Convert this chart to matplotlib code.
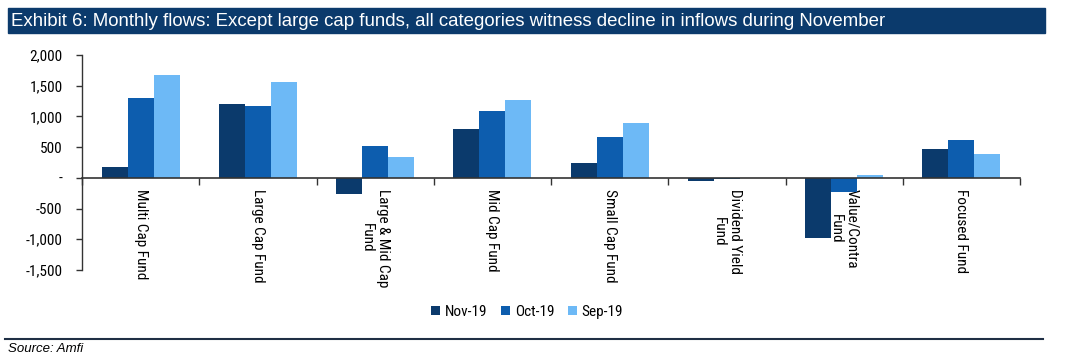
import numpy as np
import matplotlib
matplotlib.use("Agg")
import matplotlib.pyplot as plt
from matplotlib.patches import Rectangle
from matplotlib.ticker import FuncFormatter, FixedLocator

plt.rcParams['font.family'] = ['Roboto Condensed', 'DejaVu Sans']

# 数据
categories = ["Multi Cap Fund", "Large Cap Fund", "Large & Mid Cap\nFund", "Mid Cap Fund",
              "Small Cap Fund", "Dividend Yield\nFund", "Value/Contra\nFund", "Focused Fund"]
series_names = ["Nov-19", "Oct-19", "Sep-19"]
nov19 = [170, 1195, -265, 800, 245, -55, -975, 475]
oct19 = [1305, 1175, 515, 1085, 670, -20, -235, 610]
sep19 = [1680, 1555, 335, 1275, 890, 5, 40, 395]
colors = ["#0B3A6C", "#0D5DAE", "#6DB9F6"]

fig = plt.figure(figsize=(10.65, 3.62), dpi=100)

# 标题栏
fig.patches.append(Rectangle((8 / 1065, 1 - 33 / 362), (1045 - 8) / 1065, 25 / 362,
                             transform=fig.transFigure, color="#0B3A6C", zorder=0))
fig.text(11 / 1065, 1 - 21 / 362,
         "Exhibit 6: Monthly flows: Except large cap funds, all categories witness decline in inflows during November",
         color="white", fontsize=13.4, va="center", ha="left",
         family=["Liberation Sans", "DejaVu Sans"])

ax = fig.add_axes([82 / 1065, 1 - 270 / 362, (1020 - 82) / 1065, (270 - 55) / 362])

x = np.arange(len(categories)) + 0.5
w = 0.222
for i, (vals, name) in enumerate(zip([nov19, oct19, sep19], series_names)):
    ax.bar(x + (i - 1) * w, vals, width=w, color=colors[i], label=name, zorder=2)

ax.set_xlim(0, len(categories))
ax.set_ylim(-1500, 2000)
ax.set_yticks([-1500, -1000, -500, 0, 500, 1000, 1500, 2000])
ax.yaxis.set_major_formatter(FuncFormatter(lambda v, p: "-" if v == 0 else f"{int(v):,}"))
ax.tick_params(axis="y", labelsize=11, length=4, width=1, color="#333333", pad=10)

ax.spines["top"].set_visible(False)
ax.spines["right"].set_visible(False)
ax.spines["left"].set_color("#333333")
ax.spines["bottom"].set_color("#333333")
ax.spines["bottom"].set_position(("data", 0))
ax.spines["left"].set_linewidth(1)
ax.spines["bottom"].set_linewidth(1.2)

ax.xaxis.set_major_locator(FixedLocator(np.arange(len(categories) + 1)))
ax.xaxis.set_major_formatter(FuncFormatter(lambda v, p: ""))
ax.xaxis.set_minor_locator(FixedLocator(x))
ax.set_xticklabels(categories, minor=True, rotation=270, fontsize=11,
                   ha="center", va="top", multialignment="center")
ax.tick_params(axis="x", which="major", length=5, width=1, color="#333333", direction="out")
ax.tick_params(axis="x", which="minor", length=0, pad=8)

ax.legend(loc="center", bbox_to_anchor=(527 / 1065, 1 - 312 / 362), bbox_transform=fig.transFigure,
          ncol=3, frameon=False, fontsize=11, handlelength=0.6, handleheight=0.6,
          handletextpad=0.3, columnspacing=0.9)

# 来源
fig.add_artist(plt.Line2D([5 / 1065, 1043 / 1065], [1 - 339 / 362, 1 - 339 / 362],
                          transform=fig.transFigure, color="#1F2F45", lw=1.5))
fig.text(8 / 1065, 1 - 349 / 362, "Source: Amfi", fontsize=9.5, style="italic",
         family=["Liberation Sans", "DejaVu Sans"], va="center", ha="left")

fig.savefig("out.png", dpi=100)
